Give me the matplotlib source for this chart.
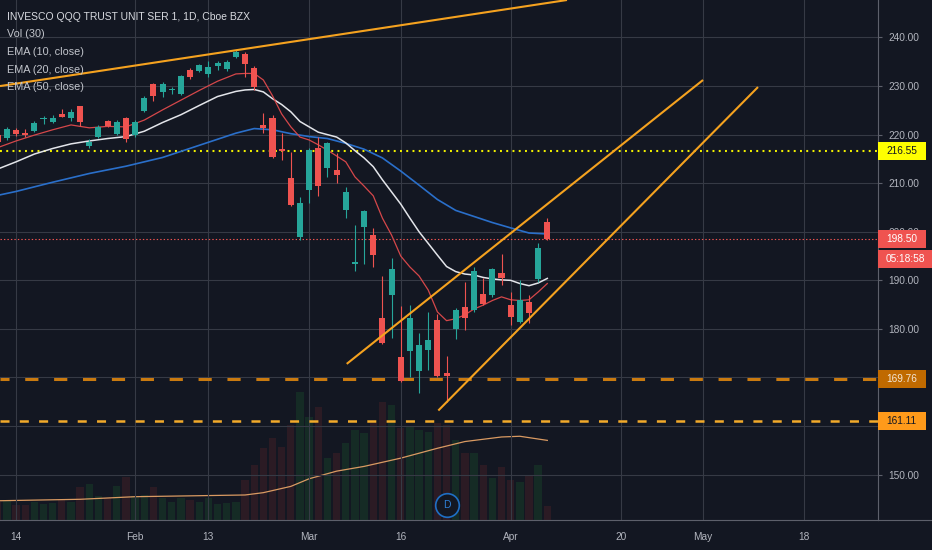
import matplotlib
matplotlib.use('Agg')
import matplotlib.pyplot as plt
import matplotlib.transforms as mtransforms
from matplotlib.patches import Rectangle
from matplotlib.lines import Line2D

plt.rcParams['lines.scale_dashes'] = False
plt.rcParams['font.family'] = ['Liberation Sans', 'DejaVu Sans']

# ---------------- data ----------------
bars = list(range(-2, 59))   # trading-day index, 0 = Jan 14 2020
opens = [219.9, 219.3, 221.0, 220.2, 220.8, 223.2, 222.6, 224.2, 223.5, 225.8,
         217.7, 219.5, 222.8, 220.1, 223.5, 219.9, 224.9, 230.4, 228.7, 229.1,
         228.3, 233.3, 233.0, 232.4, 234.2, 233.5, 235.9, 236.6, 233.8, 222.0,
         223.4, 216.9, 211.0, 198.9, 208.6, 217.2, 213.1, 212.7, 204.5, 193.4,
         201.0, 199.3, 182.2, 187.0, 174.2, 175.5, 171.4, 175.7, 181.8, 171.0,
         179.9, 184.6, 183.8, 187.1, 187.0, 191.6, 184.9, 181.5, 185.6, 190.2, 202.1]
highs = [220.3, 221.6, 221.4, 221.2, 222.8, 223.8, 224.0, 225.3, 225.3, 225.9,
         219.2, 222.0, 223.0, 223.0, 223.7, 223.0, 228.0, 230.6, 230.9, 229.9,
         232.3, 233.7, 234.5, 235.2, 235.2, 235.4, 237.4, 237.0, 234.1, 224.5,
         224.0, 220.3, 216.5, 207.2, 217.2, 219.6, 218.5, 216.2, 209.2, 201.4,
         204.5, 200.8, 190.9, 194.6, 184.7, 184.9, 179.2, 183.5, 183.1, 174.4,
         184.3, 189.7, 192.8, 190.4, 192.5, 195.4, 187.5, 190.1, 187.0, 197.6, 202.8]
lows = [218.1, 218.9, 219.7, 219.5, 220.5, 222.2, 222.3, 223.6, 222.8, 221.8,
        217.2, 219.3, 221.5, 219.9, 218.5, 219.6, 224.7, 226.9, 227.8, 228.4,
        228.2, 231.4, 232.8, 231.9, 233.3, 233.2, 235.7, 231.8, 229.2, 220.3,
        215.1, 214.8, 205.3, 198.3, 205.9, 207.4, 211.2, 210.0, 202.8, 192.0,
        193.4, 192.7, 176.9, 178.1, 169.1, 170.1, 166.9, 171.5, 170.2, 165.0,
        177.9, 179.8, 183.5, 184.9, 186.6, 189.0, 180.8, 181.2, 181.3, 189.7, 198.3]
closes = [218.5, 221.2, 220.1, 220.0, 222.4, 223.5, 223.5, 223.7, 224.7, 222.5,
          218.5, 221.6, 221.8, 222.7, 219.0, 222.6, 227.6, 228.0, 230.4, 229.2,
          232.1, 231.8, 234.3, 234.0, 234.8, 235.0, 237.1, 234.5, 229.9, 221.3,
          215.3, 216.7, 205.5, 206.0, 216.8, 209.4, 218.3, 211.6, 208.1, 193.8,
          204.3, 195.2, 177.0, 192.3, 169.3, 182.2, 176.7, 177.7, 170.3, 170.3,
          183.8, 182.2, 192.0, 185.1, 192.3, 190.4, 182.4, 186.0, 183.3, 196.6, 198.5]
volumes = [20, 22, 17, 17, 20, 18, 19, 22, 20, 37, 40, 27, 25, 38, 48, 27, 28, 37, 25, 20,
           25, 22, 20, 25, 18, 19, 20, 45, 61, 80, 91, 81, 106, 143, 115, 126, 69, 75, 86, 100,
           97, 108, 132, 128, 103, 104, 100, 98, 108, 106, 89, 75, 75, 61, 47, 59, 45, 42, 50, 61, 16]

ema10_bars = [-1.75, 0, 2, 4, 6, 8, 10, 12, 14, 16, 18, 20, 22, 24] + list(range(25, 59))
ema10_vals = [217.5, 218.7, 219.9, 221.0, 222.0, 221.4, 221.7, 221.6, 223.0, 225.1, 227.1, 229.1,
              231.0, 232.5, 232.6, 232.6, 231.25, 228.0, 224.25, 221.6, 219.5, 218.9, 217.9,
              216.8, 215.6, 214.4, 211.3, 209.4, 207.4, 202.8, 199.3, 195.0, 192.75, 190.9,
              188.0, 183.5, 181.7, 182.1, 182.9, 184.1, 184.9, 185.85, 186.6, 186.0, 185.85,
              186.0, 187.6, 189.35]
ema20_bars = ema10_bars
ema20_vals = [213.1, 214.4, 216.0, 217.15, 218.1, 218.7, 219.2, 219.6, 220.7, 222.5, 224.1, 226.0,
              227.85, 228.9, 229.2, 229.3, 228.8, 227.4, 226.2, 224.7, 222.7, 221.6, 220.5,
              220.0, 219.5, 218.3, 216.7, 215.2, 213.4, 210.7, 208.2, 205.7, 202.8, 200.0,
              197.6, 195.2, 192.85, 191.8, 191.3, 191.1, 190.6, 190.3, 190.1, 190.0, 189.35,
              188.9, 189.45, 190.4]
ema50_bars = [-1.75, 0, 4, 8, 12, 16, 20, 24, 26, 28, 30, 32, 34, 36, 38, 40, 42, 44, 46, 48,
              50, 52, 54, 56, 58]
ema50_vals = [207.6, 208.3, 210.2, 212.0, 213.5, 215.3, 217.8, 220.3, 221.25, 221.0, 220.2,
              219.6, 219.2, 218.2, 217.0, 215.2, 212.5, 209.6, 206.65, 204.4, 203.15, 201.9,
              200.8, 199.75, 199.55]
volma_bars = [-1.75, 7, 13, 20, 25, 27, 30, 32, 35, 38, 42, 46, 49, 53, 55, 58]
volma_vals = [21.5, 23.1, 26.0, 27.1, 27.9, 30.5, 37.5, 46.0, 54.5, 59.8, 69.0, 80.0, 87.5,
              92.6, 93.4, 88.8]

date_ticks = [0, 13, 21, 32, 42, 54, 66, 75, 86]
date_labels = ['14', 'Feb', '13', 'Mar', '16', 'Apr', '20', 'May', '18']
price_ticks = [150, 160, 170, 180, 190, 200, 210, 220, 230, 240]
hidden_price_labels = [160, 170]   # covered by the level labels in the reference

trend_top = ([-1.75, 60.15], [230.0, 247.72])
channel_upper = ([36.1, 75.0], [172.8, 231.25])
channel_lower = ([46.1, 81.0], [163.2, 229.8])

level_yellow = 216.55
level_a = 169.76
level_b = 161.11
last_price = 198.50
countdown = '05:18:58'
dividend_bar = 47

legend_lines = ['INVESCO QQQ TRUST UNIT SER 1, 1D, Cboe BZX', 'Vol (30)',
                'EMA (10, close)', 'EMA (20, close)', 'EMA (50, close)']

# ---------------- style ----------------
BG = '#131722'
GRID = '#363a45'
AXC = '#5d606b'
TXT = '#b2b5be'
UP = '#26a69a'
DN = '#ef5350'
ORANGE = '#f5a21f'
AXFS = 7.3

W, H = 932, 550
fig = plt.figure(figsize=(W / 100, H / 100), dpi=100, facecolor=BG)
rect = [0, 30 / H, 878 / W, 520 / H]
XMIN, XMAX = -1.75, 94.1
YMIN, YMAX = 140.66, 247.72

axv = fig.add_axes(rect)
axv.set_facecolor(BG)
axv.set_xlim(XMIN, XMAX)
axv.set_ylim(0, 580)
axv.axis('off')
vcols = ['#152b25' if c >= o else '#2b1b24' for o, c in zip(opens, closes)]
axv.bar(bars, volumes, width=0.8, color=vcols, linewidth=0)
axv.plot(volma_bars, volma_vals, color='#d99a62', lw=0.9)

ax = fig.add_axes(rect)
ax.set_facecolor('none')
ax.set_xlim(XMIN, XMAX)
ax.set_ylim(YMIN, YMAX)
ax.set_axisbelow(True)
ax.set_xticks(date_ticks)
ax.set_xticklabels(date_labels)
ax.set_yticks(price_ticks)
ax.set_yticklabels(['' if p in hidden_price_labels else f'{p:.2f}' for p in price_ticks])
ax.yaxis.set_ticks_position('right')
ax.grid(True, color=GRID, lw=0.8)
for s in ['top', 'left']:
    ax.spines[s].set_visible(False)
for s in ['right', 'bottom']:
    ax.spines[s].set_color(AXC)
    ax.spines[s].set_linewidth(0.8)
ax.tick_params(axis='y', colors=AXC, labelcolor=TXT, labelsize=AXFS, length=3, pad=4.5, width=0.8)
ax.tick_params(axis='x', colors=AXC, labelcolor=TXT, labelsize=AXFS, length=0, pad=9)
fig.add_artist(Line2D([878 / W, 1], [30 / H, 30 / H], transform=fig.transFigure, color=AXC, lw=0.8))

# EMAs
ax.plot(ema50_bars, ema50_vals, color='#2a6fca', lw=1.2, zorder=3)
ax.plot(ema20_bars, ema20_vals, color='#e3e5ea', lw=1.1, zorder=3)
ax.plot(ema10_bars, ema10_vals, color='#d5474a', lw=0.9, zorder=3)

# candles
cols = [UP if c >= o else DN for o, c in zip(opens, closes)]
ax.vlines(bars, lows, highs, colors=cols, lw=0.8, zorder=4)
bottoms = [min(o, c) for o, c in zip(opens, closes)]
heights = [max(abs(c - o), 0.25) for o, c in zip(opens, closes)]
ax.bar(bars, heights, bottom=bottoms, width=0.66, color=cols, linewidth=0, zorder=5)

# horizontal levels
ax.axhline(level_yellow, color='#f0f000', lw=1.5, ls=(0, (1.4, 3.1)), zorder=2)
ax.axhline(last_price, color=DN, lw=0.8, ls=(0, (1, 1.5)), zorder=2)
ax.axhline(level_a, color='#c97a10', lw=2.2, ls=(3, (9.5, 11.3)), zorder=2)
ax.axhline(level_b, color='#f2aa2a', lw=1.8, ls=(0, (6.5, 7.4)), zorder=2)

# trend lines
for xs, ys in (trend_top, channel_upper, channel_lower):
    ax.plot(xs, ys, color=ORANGE, lw=1.5, zorder=6, solid_capstyle='butt')

# dividend marker
dtrans = mtransforms.blended_transform_factory(ax.transData, ax.transAxes)
ax.plot([dividend_bar], [15 / 520], transform=dtrans, marker='o', ms=17, mfc=BG,
        mec='#1f6fc5', mew=1.2, zorder=7, clip_on=False)
ax.text(dividend_bar, 15 / 520, 'D', transform=dtrans, ha='center', va='center',
        color='#2e7fd6', fontsize=7.5, zorder=8)

# price label boxes
ppu = 520 / (YMAX - YMIN)
trans = mtransforms.blended_transform_factory(ax.transAxes, ax.transData)


def price_box(price, text, fc, tc, yoff_px=0, width_px=48):
    yc = price - yoff_px / ppu
    hh = 18 / ppu
    ax.add_patch(Rectangle((1.0005, yc - hh / 2), width_px / 878, hh, transform=trans,
                           facecolor=fc, edgecolor='none', clip_on=False, zorder=20))
    ax.text(1.0 + 8 / 878, yc, text, transform=trans, ha='left', va='center',
            fontsize=AXFS, color=tc, clip_on=False, zorder=21)


price_box(level_yellow, f'{level_yellow:.2f}', '#ffff00', '#131722')
price_box(last_price, f'{last_price:.2f}', DN, '#ffffff')
price_box(last_price, countdown, DN, '#ffffff', yoff_px=20, width_px=56)
price_box(level_a, f'{level_a:.2f}', '#c06a00', '#f3e6d6')
price_box(level_b, f'{level_b:.2f}', '#ff9a1a', '#131722')

# legend texts
for i, t in enumerate(legend_lines):
    fig.text(7 / W, 1 - (16.7 + 17.7 * i) / H, t, ha='left', va='center',
             fontsize=7.5 if i == 0 else 7.8, color='#d8dae0' if i == 0 else '#c2c5cc')

fig.savefig('out.png', dpi=100, facecolor=BG)
